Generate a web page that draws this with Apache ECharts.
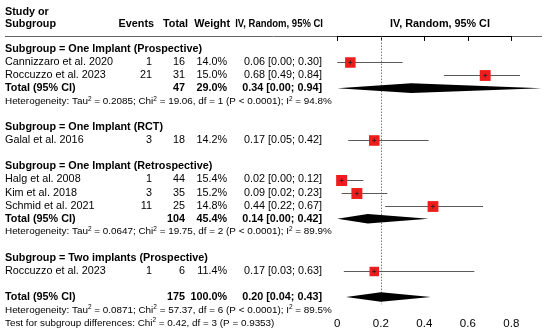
<!DOCTYPE html>
<html><head><meta charset="utf-8">
<script src="https://cdn.jsdelivr.net/npm/echarts@6/dist/echarts.min.js"></script>
<style>html,body{margin:0;padding:0;background:#fff}#c{width:550px;height:334px}</style>
</head><body><div id="c"></div>
<script>
// ---------- data ----------
const studyNames = ['Cannizzaro et al. 2020','Roccuzzo et al. 2023','Galal et al. 2016','Halg et al. 2008','Kim et al. 2018','Schmid et al. 2021','Roccuzzo et al. 2023'];
const studyRows = [2,3,8,11,12,13,18];
const studyEvents = [1,21,3,1,3,11,1];
const studyTotals = [16,31,18,44,35,25,6];
const studyWeights = [14.0,15.0,14.2,15.4,15.2,14.8,11.4];
const studyEst = [0.06,0.68,0.17,0.02,0.09,0.44,0.17];
const studyLo = [0.00,0.49,0.05,0.00,0.02,0.22,0.03];
const studyHi = [0.30,0.84,0.42,0.12,0.23,0.67,0.63];

const subgroupTitles = ['Subgroup = One Implant (Prospective)','Subgroup = One Implant (RCT)','Subgroup = One Implant (Retrospective)','Subgroup = Two implants (Prospective)'];
const subgroupRows = [1,7,10,17];

const pooledLabels = ['Total (95% CI)','Total (95% CI)','Total (95% CI)'];
const pooledRows = [4,14,20];
const pooledTotals = [47,104,175];
const pooledWeights = [29.0,45.4,100.0];
const pooledEst = [0.34,0.14,0.20];
const pooledLo = [0.00,0.00,0.04];
const pooledHi = [0.94,0.42,0.43];

const hetTexts = [
  'Heterogeneity: Tau{s|2} = 0.2085; Chi{s|2} = 19.06, df = 1 (P < 0.0001); I{s|2} = 94.8%',
  'Heterogeneity: Tau{s|2} = 0.0647; Chi{s|2} = 19.75, df = 2 (P < 0.0001); I{s|2} = 89.9%',
  'Heterogeneity: Tau{s|2} = 0.0871; Chi{s|2} = 57.37, df = 6 (P < 0.0001); I{s|2} = 89.5%',
  'Test for subgroup differences: Chi{s|2} = 0.42, df = 3 (P = 0.9353)'
];
const hetRows = [5,15,21,22];

const xTicks = [0, 0.2, 0.4, 0.6, 0.8];
const refValue = 0.2;
const headerCols = ['Events','Total','Weight','IV, Random, 95% CI'];
const plotTitle = 'IV, Random, 95% CI';

// ---------- layout ----------
const FF = '"Liberation Sans", Arial, Helvetica, sans-serif';
const FS = 10.8, FSH = 9.9;
const X_LABEL = 5, X_EV = 152, X_TOT = 185, X_W = 227, X_CI = 322;
const Y_MAX = 20.56;

function fmtCI(e,l,h){ return e.toFixed(2)+' ['+l.toFixed(2)+'; '+h.toFixed(2)+']'; }
function txt(x,y,text,opt){
  opt = opt||{};
  const el = {type:'text', x:x, y:y, silent:true, style:{
    text:text, fontFamily:FF, fontSize:opt.fs||FS, fontWeight:opt.bold?'bold':'normal',
    fill:'#000', align:opt.align||'left', verticalAlign:'middle',
    rich: opt.rich
  }};
  if(opt.scaleX){ el.scaleX = opt.scaleX; }
  return el;
}

const chart = echarts.init(document.getElementById('c'), null, {renderer:'canvas'});

const option = {
  animation:false,
  backgroundColor:'#fff',
  grid:{left:337.3, right:38.7, top:35.95, bottom:29.7, containLabel:false},
  xAxis:{type:'value', min:xTicks[0], max:xTicks[xTicks.length-1], interval:0.2,
    axisLine:{show:true, lineStyle:{color:'#000', width:1}},
    axisTick:{show:true, length:5, lineStyle:{color:'#000'}},
    axisLabel:{fontFamily:FF, fontSize:11.5, color:'#000', margin:13.5,
      formatter:v=>String(Math.round(v*10)/10)},
    splitLine:{show:false}},
  yAxis:{type:'value', inverse:true, min:0, max:Y_MAX, show:false},
  graphic:[
    {type:'line', shape:{x1:5, y1:36.5, x2:542, y2:36.5}, style:{stroke:'#666', lineWidth:1}},
    txt(X_LABEL,12,'Study or',{bold:true}),
    txt(X_LABEL,24,'Subgroup',{bold:true}),
    txt(X_EV+2,24,headerCols[0],{bold:true,align:'right'}),
    txt(X_TOT+3,24,headerCols[1],{bold:true,align:'right'}),
    txt(X_W+3,24,headerCols[2],{bold:true,align:'right'}),
    txt(X_CI+1,24,headerCols[3],{bold:true,align:'right',scaleX:0.88}),
    txt(440,24,plotTitle,{bold:true,align:'center'})
  ],
  series:[
    { // reference line
      type:'custom', silent:true, data:[[refValue]],
      renderItem:(p,api)=>{
        const a = api.coord([api.value(0), 0.05]), b = api.coord([api.value(0), Y_MAX]);
        const x = Math.round(a[0])+0.5;
        return {type:'line', shape:{x1:x,y1:a[1],x2:x,y2:b[1]},
          style:{stroke:'#777', lineWidth:1, lineDash:[1.5,1.5]}};
      }
    },
    { // studies
      type:'custom', silent:true,
      data: studyRows.map((r,i)=>[studyEst[i], r, studyLo[i], studyHi[i], studyWeights[i]]),
      renderItem:(p,api)=>{
        const e=api.value(0), r=api.value(1), lo=api.value(2), hi=api.value(3), w=api.value(4);
        const c=api.coord([e,r]), pl=api.coord([lo,r]), ph=api.coord([hi,r]);
        const y=Math.round(c[1])+0.5;
        const s=11*Math.sqrt(w/15.4);
        return {type:'group', children:[
          {type:'line', shape:{x1:pl[0],y1:y,x2:ph[0],y2:y}, style:{stroke:'#5a5a5a',lineWidth:1}},
          {type:'rect', shape:{x:c[0]-s/2,y:y-s/2,width:s,height:s}, style:{fill:'#ee1c1c'}},
          {type:'line', shape:{x1:c[0]-2,y1:y,x2:c[0]+2,y2:y}, style:{stroke:'#222',lineWidth:0.8}},
          {type:'line', shape:{x1:c[0],y1:y-2,x2:c[0],y2:y+2}, style:{stroke:'#222',lineWidth:0.8}}
        ]};
      }
    },
    { // pooled diamonds
      type:'custom', silent:true,
      data: pooledRows.map((r,i)=>[pooledEst[i], r, pooledLo[i], pooledHi[i]]),
      renderItem:(p,api)=>{
        const e=api.value(0), r=api.value(1), lo=api.value(2), hi=api.value(3);
        const c=api.coord([e,r]), pl=api.coord([lo,r]), ph=api.coord([hi,r]);
        const h=4.8;
        return {type:'polygon', shape:{points:[[pl[0],c[1]],[c[0],c[1]-h],[ph[0],c[1]],[c[0],c[1]+h]]},
          style:{fill:'#000'}};
      }
    },
    { // table text
      type:'custom', silent:true,
      data: [].concat(
        studyRows.map((r,i)=>[0,r,0,i]),
        subgroupRows.map((r,i)=>[0,r,1,i]),
        pooledRows.map((r,i)=>[0,r,2,i]),
        hetRows.map((r,i)=>[0,r,3,i])
      ),
      renderItem:(p,api)=>{
        const r=api.value(1), k=api.value(2), i=api.value(3);
        const y=api.coord([0,r])[1];
        if(k===0){
          return {type:'group', children:[
            txt(X_LABEL,y,studyNames[i]),
            txt(X_EV,y,String(studyEvents[i]),{align:'right'}),
            txt(X_TOT,y,String(studyTotals[i]),{align:'right'}),
            txt(X_W,y,studyWeights[i].toFixed(1)+'%',{align:'right'}),
            txt(X_CI,y,fmtCI(studyEst[i],studyLo[i],studyHi[i]),{align:'right'})
          ]};
        } else if(k===1){
          return txt(X_LABEL,y,subgroupTitles[i],{bold:true});
        } else if(k===2){
          return {type:'group', children:[
            txt(X_LABEL,y,pooledLabels[i],{bold:true}),
            txt(X_TOT,y,String(pooledTotals[i]),{bold:true,align:'right'}),
            txt(X_W,y,pooledWeights[i].toFixed(1)+'%',{bold:true,align:'right'}),
            txt(X_CI,y,fmtCI(pooledEst[i],pooledLo[i],pooledHi[i]),{bold:true,align:'right'})
          ]};
        } else {
          return txt(X_LABEL,y,hetTexts[i],{fs:FSH, rich:{s:{fontSize:6.5, fontFamily:FF, fill:'#000', verticalAlign:'top', padding:[0,0,5,0]}}});
        }
      }
    }
  ]
};
chart.setOption(option);
</script>
</body></html>
